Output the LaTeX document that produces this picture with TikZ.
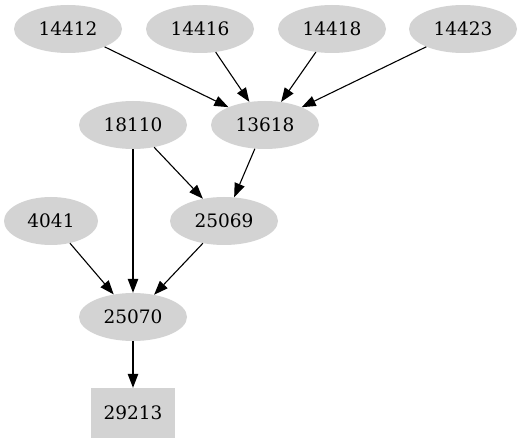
\documentclass[tikz,border=0pt]{standalone}
\usepackage{xcolor}
\usepackage{fontspec}
\setmainfont{DejaVu Serif}
\usepackage{tikz}
\usetikzlibrary{shapes,arrows.meta,positioning}
\definecolor{graylight}{HTML}{D3D3D3}
\tikzstyle{entry} = [ellipse, fill=graylight, minimum width=108pt, minimum height=48pt, inner sep=0pt, font=\fontsize{18.5}{22}\selectfont]
\tikzstyle{leaf} = [rectangle, fill=graylight, minimum width=84pt, minimum height=50pt, inner sep=0pt, font=\fontsize{18.5}{22}\selectfont]
\tikzstyle{line} = [draw, line width=1.1pt, -{Triangle[length=14pt, width=10.5pt]}]

\begin{document}
\begin{tikzpicture}[x=1pt, y=1pt, node distance = 96pt]
\useasboundingbox (0,0) rectangle (524,-443);
\node [entry] (n14412) at (68,-29) {14412};
\node [entry, right of=n14412, xshift=36pt] (n14416) {14416};
\node [entry, right of=n14416, xshift=36pt] (n14418) {14418};
\node [entry, right of=n14418, xshift=35pt] (n14423) {14423};
\node [entry, below of=n14416, xshift=65pt] (n13618) {13618};
\node [entry, left of=n13618, xshift=-36pt] (n18110) {18110};
\node [entry, below of=n13618, xshift=-41pt] (n25069) {25069};
\node [entry, below of=n18110, xshift=-82pt, minimum width=94pt] (n4041) {4041};
\node [entry, below of=n4041, xshift=82pt] (n25070) {25070};
\node [leaf, below of=n25070] (n29213) {29213};

\path [line] (n14412) -- (n13618);
\path [line] (n14416) -- (n13618);
\path [line] (n14418) -- (n13618);
\path [line] (n14423) -- (n13618);
\path [line] (n13618) -- (n25069);
\path [line] (n18110) -- (n25069);
\path [line] (n18110) -- (n25070);
\path [line] (n4041) -- (n25070);
\path [line] (n25069) -- (n25070);
\path [line] (n25070) -- (n29213);
\end{tikzpicture}
\end{document}
